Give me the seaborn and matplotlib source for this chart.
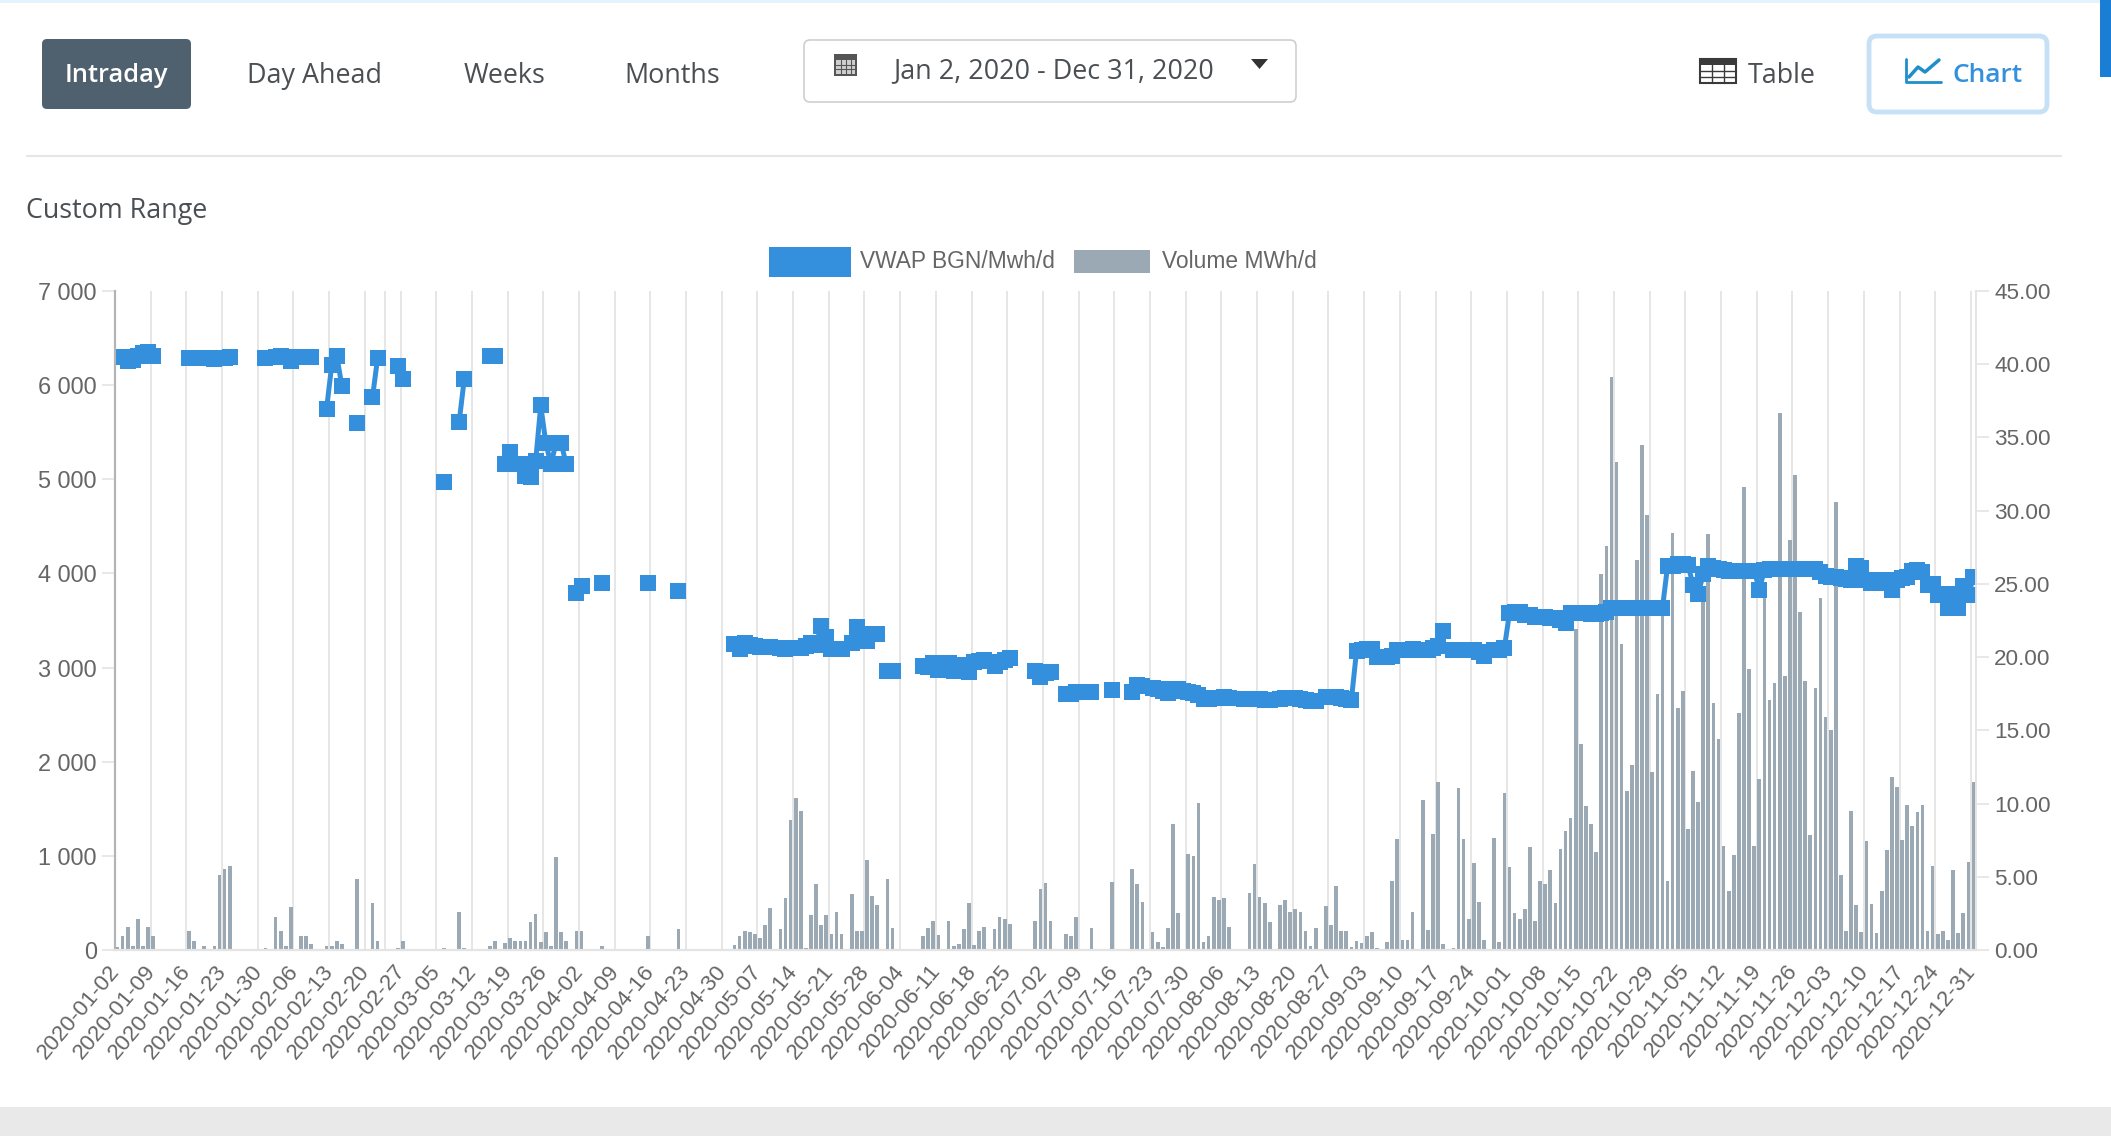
#!/usr/bin/env python
"""Intraday VWAP and volume chart for 2020, with the page controls around it."""

import numpy as np
import pandas as pd
import matplotlib
matplotlib.use("Agg")
import matplotlib.pyplot as plt
from matplotlib.patches import FancyBboxPatch, Polygon, Rectangle
from matplotlib.ticker import FuncFormatter
from matplotlib.transforms import ScaledTranslation
import seaborn as sns

na = np.nan

# one row per week, first day of the row is the weekly tick
volume_mwh = [
    .23, .93, 1.6, .27, 2.1, .27, 1.6,
    .93, 0, 0, 0, 0, 0, 0,
    1.3, .64, 0, .27, 0, .27, 5.15,
    5.5, 5.76, 0, 0, 0, 0, 0,
    0, .14, 0, 2.23, 1.3, .27, 2.94,
    0, .93, .93, .39, 0, 0, .27,
    .27, .64, .41, 0, 0, 4.83, 0,
    0, 3.2, .64, 0, 0, 0, .14,
    .64, 0, 0, 0, 0, 0, 0,
    0, .14, 0, 0, 2.57, .14, 0,
    0, 0, 0, .27, .64, 0, .5,
    .8, .64, .64, .64, 1.9, 2.46, .52,
    1.2, .27, 6.33, 1.2, .64, 0, 1.3,
    1.3, 0, 0, 0, .27, 0, 0,
    0, 0, 0, 0, 0, 0, .93,
    0, 0, 0, 0, 0, 1.43, 0,
    0, 0, 0, 0, 0, 0, 0,
    0, 0, .32, .96, 1.32, 1.23, 1.07,
    .84, 1.69, 2.9, 0, 1.43, 3.55, 8.86,
    10.36, 9.48, .14, 2.39, 4.5, 1.69, 2.39,
    1.07, 2.62, 1.07, 0, 3.85, 1.3, 1.3,
    6.17, 3.67, 3.08, 0, 4.85, 1.48, 0,
    0, 0, 0, 0, .96, 1.48, 1.96,
    1.05, 0, 1.96, .27, .41, 1.46, 3.23,
    .32, 1.3, 1.6, 0, 1.46, 2.26, 2.12,
    1.78, 0, 0, 0, 0, 1.96, 4.17,
    4.58, 2.0, 0, 0, 1.07, .96, 2.26,
    0, 0, 1.48, 0, 0, 0, 4.65,
    0, 0, 0, 5.5, 4.5, 3.28, 0,
    1.23, .55, .2, 1.48, 8.59, 2.5, .05,
    6.54, 6.4, 10.05, .55, .96, 3.6, 3.42,
    3.56, 1.6, 0, 0, .05, 3.9, 5.85,
    3.64, 3.24, 1.94, 0, 3.08, 3.4, 2.6,
    2.8, 2.6, 1.3, .3, 1.5, 0, 3.0,
    1.7, 4.4, 1.33, 1.33, .2, .6, .45,
    .96, 1.2, .13, 0, .53, 4.7, 7.58,
    .7, .66, 2.6, 0, 10.27, 1.36, 7.93,
    11.5, .4, 0, .16, 11.06, 7.55, 2.13,
    5.96, 3.27, .66, 0, 7.66, .58, 10.7,
    5.64, 2.5, 2.13, 2.77, 7.05, 1.97, 4.7,
    4.52, 5.48, 3.2, 6.9, 8.1, 9.0, 21.9,
    14.1, 9.8, 8.6, 6.7, 25.7, 27.6, 39.1,
    33.35, 20.9, 10.85, 12.6, 26.6, 34.5, 29.7,
    12.15, 17.5, 23.4, 4.7, 28.5, 16.5, 17.66,
    8.24, 12.2, 10.1, 24.5, 28.4, 16.9, 14.4,
    7.07, 4.0, 6.5, 16.2, 31.65, 19.2, 7.07,
    11.65, 24.5, 17.1, 18.2, 36.7, 18.7, 28,
    32.45, 23.1, 18.35, 7.87, 17.9, 24.07, 15.9,
    15, 30.6, 5.13, 1.28, 9.5, 3.1, 1.22,
    7.45, 3.14, 1.17, 4.0, 6.84, 11.84, 11.1,
    7.5, 9.9, 8.5, 9.44, 9.9, 1.33, 5.74,
    1.06, 1.33, .7, 5.45, 1.17, 2.55, 6.04,
    11.5,
]

vwap_bgn = [
    6300, 6300, 6260, 6270, 6310, 6340, 6355,
    6305, na, na, na, na, na, na,
    6290, 6290, na, 6285, na, 6280, 6285,
    6290, 6295, na, na, na, na, na,
    na, 6290, na, 6300, 6305, 6300, 6255,
    na, 6295, 6300, 6300, na, na, 5750,
    6210, 6310, 5990, na, na, 5600, na,
    na, 5870, 6285, na, na, na, 6205,
    6065, na, na, na, na, na, na,
    na, 4970, na, na, 5610, 6065, na,
    na, na, na, 6305, 6305, na, 5160,
    5285, 5160, 5160, 5035, 5020, 5190, 5785,
    5385, 5160, 5385, 5385, 5160, na, 3790,
    3870, na, na, na, 3900, na, na,
    na, na, na, na, na, na, 3900,
    na, na, na, na, na, 3810, na,
    na, na, na, na, na, na, na,
    na, na, 3250, 3195, 3258, 3240, 3233,
    3222, 3222, 3216, na, 3205, 3201, 3205,
    3205, 3212, 3230, 3258, 3240, 3446, 3322,
    3201, 3194, 3201, na, 3258, 3428, 3286,
    3279, 3357, 3357, na, 2964, 2964, na,
    na, na, na, na, 3020, 3010, 3050,
    2970, na, 3050, 2960, 2960, 3030, 2950,
    3060, 3070, 3080, na, 3020, 3060, 3080,
    3105, na, na, na, na, 2960, 2897,
    2940, 2957, na, na, 2716, 2716, 2745,
    na, na, 2745, na, na, na, 2762,
    na, na, na, 2745, 2815, 2805, na,
    2780, 2770, 2755, 2727, 2770, 2773, 2755,
    2745, 2734, 2709, 2663, 2663, 2674, 2674,
    2690, 2680, na, na, 2665, 2665, 2665,
    2665, 2660, 2660, na, 2670, 2675, 2680,
    2675, 2665, 2655, 2650, 2650, na, 2685,
    2690, 2685, 2680, 2670, 2660, 3175, 3188,
    3200, 3192, 3114, na, 3114, 3118, 3188,
    3188, 3188, 3200, na, 3188, 3188, 3208,
    3229, 3386, na, 3188, 3188, 3188, 3188,
    3188, 3167, 3126, na, 3188, 3188, 3208,
    3580, 3589, 3589, 3560, 3560, 3539, 3539,
    3539, 3530, 3530, 3506, 3477, 3580, 3580,
    3580, 3580, 3572, 3572, 3580, 3590, 3630,
    3635, 3635, 3635, 3635, 3635, 3635, 3635,
    3630, 3630, 3630, 4076, 4076, 4097, 4105,
    4093, 3878, 3779, 3994, 4076, 4056, 4043,
    4035, 4031, 4031, 4031, 4031, 4031, 4031,
    3829, 4035, 4043, 4043, 4043, 4043, 4043,
    4043, 4043, 4043, 4043, 4043, 4020, 3973,
    3961, 3961, 3953, 3945, 3932, 4076, 4056,
    3932, 3903, 3903, 3932, 3920, 3820, 3932,
    3953, 3961, 4027, 4035, 4014, 3878, 3890,
    3767, 3779, 3630, 3779, 3630, 3870, 3766,
    3961,
]

tick_dates = pd.date_range("2020-01-02", "2020-12-31", freq="7D")
extra_gridline = "2020-02-24"
left_ticks = [0, 1000, 2000, 3000, 4000, 5000, 6000, 7000]
right_ticks = [0, 5, 10, 15, 20, 25, 30, 35, 40, 45]

vwap_name = "VWAP BGN/Mwh/d"
volume_name = "Volume MWh/d"
date_range_text = "Jan 2, 2020 - Dec 31, 2020"

BLUE = "#3490dc"
BAR = "#9ba9b4"
GRID = "#e4e4e4"
TICK_TEXT = "#666666"
PAGE_TEXT = "#4a4f54"
CHART_FONT = "Liberation Sans"
PAGE_FONT = "Open Sans"
PAGE_SIZE = 19.4

WIDTH, HEIGHT = 2111, 1136
AX_LEFT, AX_RIGHT, AX_TOP, AX_BOTTOM = 115, 1976, 291, 950


def rounded(ui, x0, y0, x1, y1, radius, **kwargs):
    ui.add_patch(FancyBboxPatch((x0 + radius, y0 + radius), x1 - x0 - 2 * radius, y1 - y0 - 2 * radius,
                                boxstyle=f"round,pad={radius},rounding_size={radius}", **kwargs))


def draw_page(ui):
    # strips at the page edges
    ui.add_patch(Rectangle((0, 0), WIDTH, 3, color="#e3f2fd", lw=0))
    ui.add_patch(Rectangle((2100, 0), 11, 77, color="#1a7fd4", lw=0))
    ui.add_patch(Rectangle((0, 1107), WIDTH, 29, color="#e9e9e9", lw=0))
    ui.plot([27, 2061], [156, 156], color="#e6e6e6", lw=1.5)

    # period buttons
    rounded(ui, 42, 39, 191, 109, 5, fc="#4f616f", ec="none")
    ui.text(116, 76, "Intraday", color="white", fontsize=PAGE_SIZE - 1, ha="center", va="center",
            family=PAGE_FONT, fontweight="semibold")
    for cx, label in [(314, "Day Ahead"), (505, "Weeks"), (672, "Months")]:
        ui.text(cx, 76, label, color=PAGE_TEXT, fontsize=PAGE_SIZE, ha="center", va="center", family=PAGE_FONT)

    # date picker
    rounded(ui, 804, 40, 1296, 102, 6, fc="white", ec="#cfcfcf", lw=1.2)
    ui.add_patch(Rectangle((834, 54), 23, 22, fc="#555555", ec="none"))
    ui.add_patch(Rectangle((836, 60), 19, 14, fc="#cfcfcf", ec="none"))
    for gx in (841, 846, 851):
        ui.plot([gx, gx], [60, 74], color="#555555", lw=0.8)
    for gy in (64.5, 69):
        ui.plot([836, 855], [gy, gy], color="#555555", lw=0.8)
    ui.text(1054, 71, date_range_text, color=PAGE_TEXT, fontsize=PAGE_SIZE, ha="center", va="center", family=PAGE_FONT)
    ui.add_patch(Polygon([[1251, 59], [1268, 59], [1259.5, 69]], fc="#333333", ec="none"))

    # table toggle
    ui.add_patch(Rectangle((1700, 59), 36, 24, fc="white", ec="#3a3a3a", lw=1.5))
    ui.add_patch(Rectangle((1700, 59), 36, 6, fc="#3a3a3a", ec="none"))
    for gx in (1712, 1724):
        ui.plot([gx, gx], [59, 83], color="#3a3a3a", lw=1)
    for gy in (71, 77):
        ui.plot([1700, 1736], [gy, gy], color="#3a3a3a", lw=1)
    ui.text(1748, 76, "Table", color=PAGE_TEXT, fontsize=PAGE_SIZE, ha="left", va="center", family=PAGE_FONT)

    # chart toggle
    rounded(ui, 1869, 36, 2047, 112, 8, fc="white", ec="#c6e1f6", lw=3.5)
    ui.plot([1906, 1906, 1941], [59, 82, 82], color="#1f8fc9", lw=2)
    ui.plot([1909, 1918, 1925, 1939], [77, 67, 72, 60], color="#1f8fc9", lw=2.5)
    ui.text(1952, 76, "Chart", color=BLUE, fontsize=PAGE_SIZE - 0.4, ha="left", va="center",
            family=PAGE_FONT, fontweight="semibold")

    ui.text(26, 211, "Custom Range", color=PAGE_TEXT, fontsize=PAGE_SIZE, ha="left", va="center", family=PAGE_FONT)

    # chart legend
    ui.add_patch(Rectangle((769, 247), 82, 30, color=BLUE, lw=0))
    ui.text(860, 261, vwap_name, color=TICK_TEXT, fontsize=16.4, ha="left", va="center", family=CHART_FONT)
    ui.add_patch(Rectangle((1074, 250), 76, 23, color=BAR, lw=0))
    ui.text(1162, 261, volume_name, color=TICK_TEXT, fontsize=16.4, ha="left", va="center", family=CHART_FONT)


def draw_chart(fig, ax_volume):
    dates = pd.date_range("2020-01-02", periods=len(volume_mwh)).strftime("%Y-%m-%d")
    df = pd.DataFrame({"date": dates, "volume": volume_mwh, "vwap": vwap_bgn})
    df["slot"] = df.index
    df["segment"] = df["vwap"].isna().cumsum()

    # bars on the right scale, drawn on the lower axes
    sns.barplot(data=df, x="date", y="volume", color=BAR, saturation=1, width=0.72, linewidth=0, ax=ax_volume)
    ax_volume.set_ylim(0, 45)
    ax_volume.set_yticks(right_ticks)
    ax_volume.yaxis.set_major_formatter(FuncFormatter(lambda v, _: f"{v:.2f}"))

    # weekly ticks sit on the left edge of each day's slot
    tick_slots = [list(dates).index(d.strftime("%Y-%m-%d")) - 0.5 for d in tick_dates]
    tick_labels = [d.strftime("%Y-%m-%d") for d in tick_dates]
    extra = list(dates).index(extra_gridline) - 0.5
    ax_volume.set_xticks(tick_slots + [extra])
    ax_volume.set_xticklabels(tick_labels + [""], rotation=50, ha="right", va="top", rotation_mode="anchor",
                              fontsize=16.2, color=TICK_TEXT, family=CHART_FONT)
    ax_volume.tick_params(axis="x", length=7.2, width=1.2, color=GRID, pad=2)
    ax_volume.grid(axis="x", color=GRID, lw=1.3)
    ax_volume.grid(axis="y", visible=False)
    ax_volume.set_axisbelow(True)
    ax_volume.set_xlim(-0.5, 364.5)
    ax_volume.set_xlabel("")
    ax_volume.set_ylabel("")

    # line on the left scale, broken wherever a day has no trade
    ax_vwap = ax_volume.twinx()
    # twinx moves the first axes' labels back to the left
    ax_volume.yaxis.tick_right()
    ax_volume.tick_params(axis="y", length=9.4, width=1.2, color=GRID, pad=3.6, labelsize=16.2, labelcolor=TICK_TEXT)
    for label in ax_volume.get_yticklabels():
        label.set_family(CHART_FONT)

    sns.lineplot(data=df.dropna(subset=["vwap"]), x="slot", y="vwap", units="segment", estimator=None,
                 color=BLUE, lw=3.6, marker="s", markersize=12, markeredgewidth=0, ax=ax_vwap)
    ax_vwap.set_ylim(0, 7000)
    ax_vwap.set_yticks(left_ticks)
    ax_vwap.yaxis.set_major_formatter(FuncFormatter(lambda v, _: f"{int(v):,}".replace(",", " ")))
    ax_vwap.yaxis.tick_left()
    ax_vwap.tick_params(axis="y", length=9.4, width=1.2, color=GRID, pad=3.6, labelsize=16.9, labelcolor=TICK_TEXT)
    for label in ax_vwap.get_yticklabels():
        label.set_family(CHART_FONT)
    ax_vwap.grid(False)
    ax_vwap.set_xlim(-0.5, 364.5)
    ax_vwap.set_xlabel("")
    ax_vwap.set_ylabel("")

    for ax in (ax_volume, ax_vwap):
        ax.spines["top"].set_visible(False)
        ax.spines["left"].set_color("#b4b4b4")
        ax.spines["left"].set_linewidth(1.5)
        ax.spines["right"].set_color(GRID)
        ax.spines["right"].set_linewidth(1.3)
        ax.spines["bottom"].set_color(GRID)
        ax.spines["bottom"].set_linewidth(1.5)

    # the rotated labels end a little left of their gridline
    shift = ScaledTranslation(-0.07, 0.02, fig.dpi_scale_trans)
    for label in ax_volume.get_xticklabels():
        label.set_transform(label.get_transform() + shift)


if __name__ == "__main__":
    sns.set_theme(style="white")
    fig = plt.figure(figsize=(WIDTH / 100, HEIGHT / 100), dpi=100, facecolor="white")

    ax_volume = fig.add_axes([AX_LEFT / WIDTH, 1 - AX_BOTTOM / HEIGHT,
                              (AX_RIGHT - AX_LEFT) / WIDTH, (AX_BOTTOM - AX_TOP) / HEIGHT])
    draw_chart(fig, ax_volume)

    # whole-figure layer in pixel coordinates for the page around the chart
    ui = fig.add_axes([0, 0, 1, 1], zorder=5)
    ui.set_xlim(0, WIDTH)
    ui.set_ylim(HEIGHT, 0)
    ui.axis("off")
    draw_page(ui)

    fig.savefig("out.png", dpi=100)
